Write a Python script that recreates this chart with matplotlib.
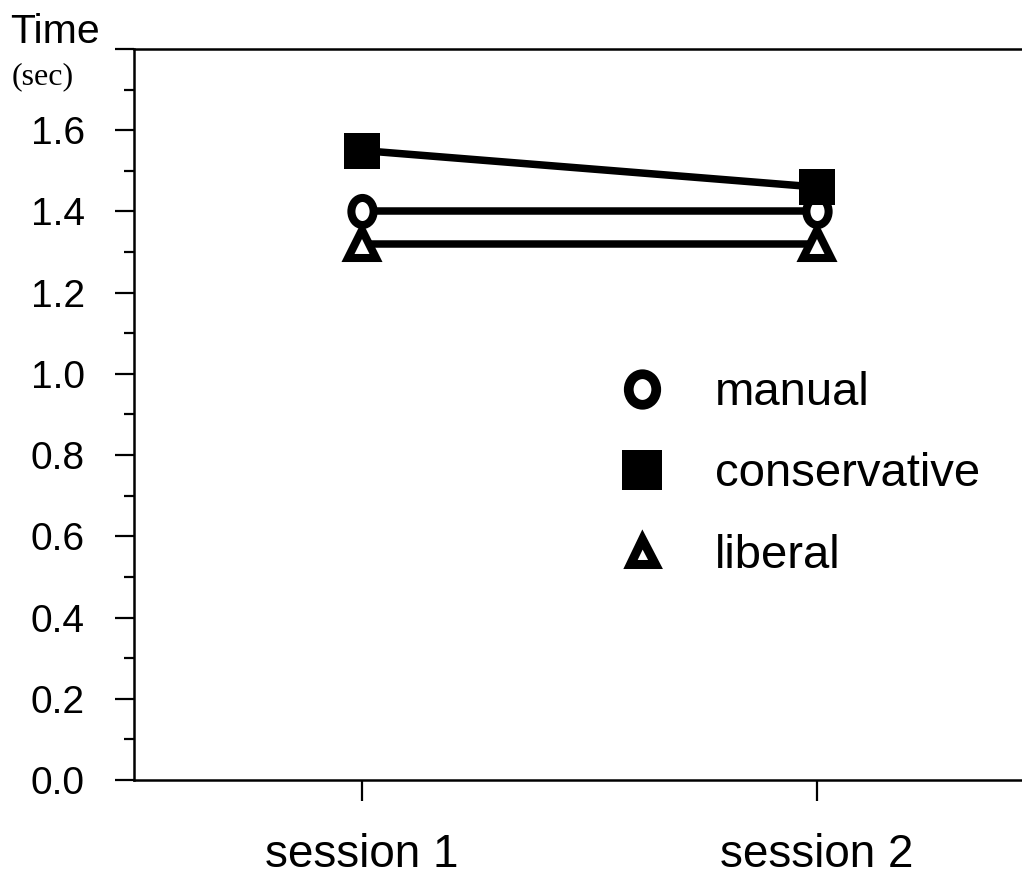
import numpy as np
import matplotlib
matplotlib.use("Agg")
import matplotlib.pyplot as plt
from matplotlib.path import Path
from matplotlib.transforms import Affine2D
from matplotlib.lines import Line2D

plt.rcParams['font.family'] = ['Liberation Sans', 'DejaVu Sans']

sessions = ["session 1", "session 2"]
manual = [1.40, 1.40]
conservative = [1.55, 1.46]
liberal = [1.32, 1.32]
yticks = [0.0, 0.2, 0.4, 0.6, 0.8, 1.0, 1.2, 1.4, 1.6, 1.8]
ytick_labels = ["0.0", "0.2", "0.4", "0.6", "0.8", "1.0", "1.2", "1.4", "1.6", ""]

# slightly tall ellipse like the original circles
ellipse = Path.unit_circle().transformed(Affine2D().scale(0.82, 1.0))

fig = plt.figure(figsize=(10.22, 8.76), dpi=100)
ax = fig.add_axes([134/1022, 1 - 780/876, 1 - 134/1022, (780 - 49)/876])

x = np.arange(len(sessions))
ax.plot(x, liberal, color="black", lw=5.4, marker="^", ms=19.5, mfc="white",
        mec="black", mew=5.8, zorder=3)
ax.plot(x, manual, color="black", lw=5.4, marker=ellipse, ms=19.5, mfc="white",
        mec="black", mew=5.8, zorder=4)
ax.plot(x, conservative, color="black", lw=5.4, marker="s", ms=26.5, mfc="black",
        mec="black", mew=0, zorder=5)

ax.set_xlim(-0.501, 1.4505)
ax.set_ylim(0, 1.8)
ax.set_xticks(x)
ax.set_xticklabels(sessions, fontsize=33)
ax.set_yticks(yticks)
ax.set_yticklabels(ytick_labels, fontsize=28)
ax.set_yticks(np.arange(0.1, 1.8, 0.2), minor=True)
ax.tick_params(axis="y", which="major", direction="out", length=14, width=1.6, pad=21.5)
ax.tick_params(axis="y", which="minor", direction="out", length=7.5, width=1.6)
ax.tick_params(axis="x", which="major", direction="out", length=15, width=1.6, pad=23.5)

ax.spines["right"].set_visible(False)
for s in ["left", "top", "bottom"]:
    ax.spines[s].set_linewidth(1.8)

handles = [
    Line2D([], [], ls="none", marker=Path.unit_circle().transformed(Affine2D().scale(0.9, 1.0)),
           ms=22, mfc="white", mec="black", mew=7),
    Line2D([], [], ls="none", marker="s", ms=28.8, mfc="black", mec="black", mew=0),
    Line2D([], [], ls="none", marker="^", ms=18, mfc="white", mec="black", mew=6.5),
]
ax.legend(handles, ["manual", "conservative", "liberal"], frameon=False,
          fontsize=34, loc="upper left", bbox_to_anchor=(0.5456, 0.5594),
          handlelength=1.0, handletextpad=1.05, labelspacing=0.79, borderpad=0,
          borderaxespad=0)

fig.text(10/1022, 1 - 43/876, "Time", fontsize=29.5, ha="left", va="baseline")
fig.text(12/1022, 1 - 84/876, "(sec)", fontsize=23, ha="left", va="baseline",
         family=["Liberation Serif", "DejaVu Serif"])

fig.savefig("out.png", dpi=100)
